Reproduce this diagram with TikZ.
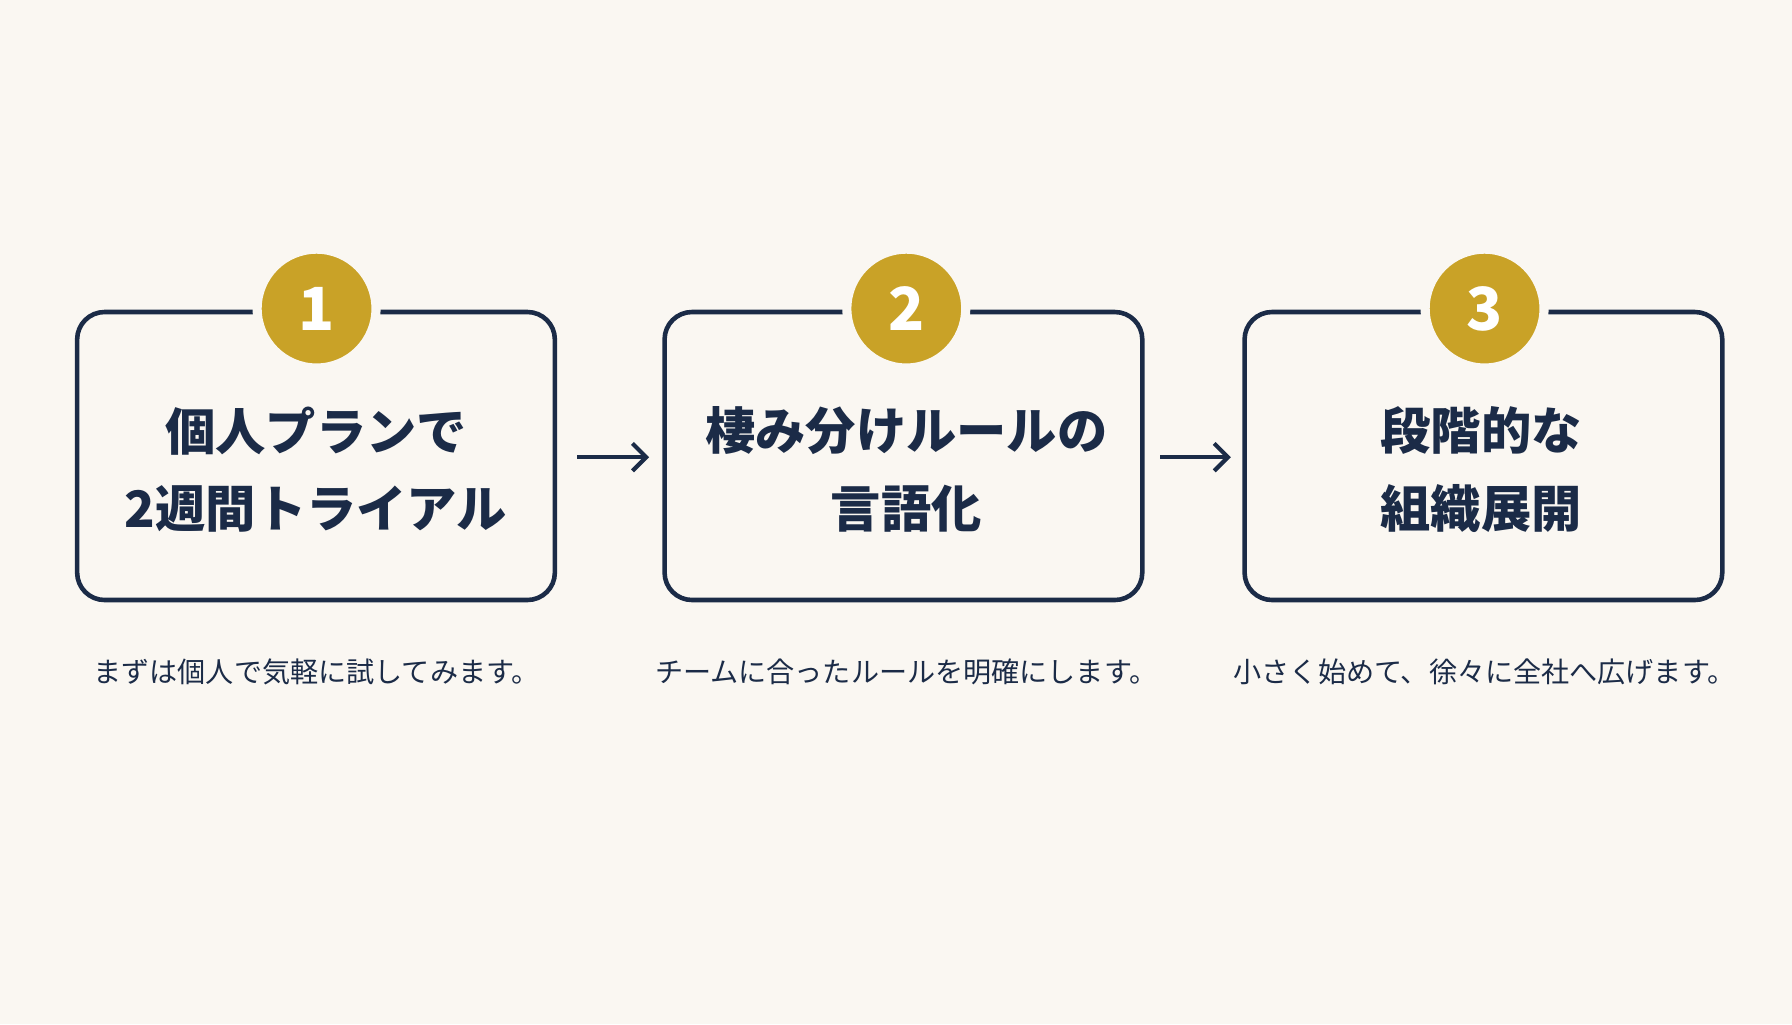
\documentclass[tikz,border=0pt]{standalone}
\usepackage{fontspec}
\newfontfamily\cjk{Noto Sans CJK JP}
\usetikzlibrary{arrows.meta}
\definecolor{bg}{HTML}{FAF7F2}
\definecolor{navy}{HTML}{1B2B47}
\definecolor{gold}{HTML}{C9A227}
\tikzset{
  stepbox/.style={draw=navy,line width=2pt,rounded corners=12pt,minimum width=209pt,minimum height=126pt},
  badge/.style={circle,fill=gold,draw=bg,line width=4pt,minimum size=52pt,text=white,font=\cjk\bfseries\fontsize{26}{26}\selectfont},
  title/.style={text=navy,align=center,font=\cjk\bfseries\fontsize{22}{34}\selectfont},
  note/.style={text=navy,font=\cjk\fontsize{12.3}{14}\selectfont},
  flow/.style={draw=navy,line width=1.8pt,-{Straight Barb[length=6pt,width=12pt]}}
}
\begin{document}
\begin{tikzpicture}[x=0.5pt,y=-0.5pt]
  \fill[bg] (0,0) rectangle (1568,896);
  \useasboundingbox (0,0) rectangle (1568,896);

  % boxes
  \node[stepbox] (s1) at (276.5,399) {};
  \node[stepbox] (s2) at (790.5,399) {};
  \node[stepbox] (s3) at (1298,399) {};

  % badges
  \node[badge] (b1) at (277,270) {1};
  \node[badge] (b2) at (793,270) {2};
  \node[badge] (b3) at (1299,270) {3};

  % titles
  \node[title] (t1) at (276.5,411) {個人プランで\\2週間トライアル};
  \node[title] (t2) at (793,411) {棲み分けルールの\\言語化};
  \node[title] (t3) at (1296,411) {段階的な\\組織展開};

  % notes
  \node[note] (n1) at (277,588) {まずは個人で気軽に試してみます。};
  \node[note] (n2) at (793,588) {チームに合ったルールを明確にします。};
  \node[note] (n3) at (1299,588) {小さく始めて、徐々に全社へ広げます。};

  % arrows
  \coordinate (a1) at (505,400);
  \coordinate (a2) at (568,400);
  \coordinate (a3) at (1015,400);
  \coordinate (a4) at (1077,400);
  \draw[flow] (a1) -- (a2);
  \draw[flow] (a3) -- (a4);
\end{tikzpicture}
\end{document}
